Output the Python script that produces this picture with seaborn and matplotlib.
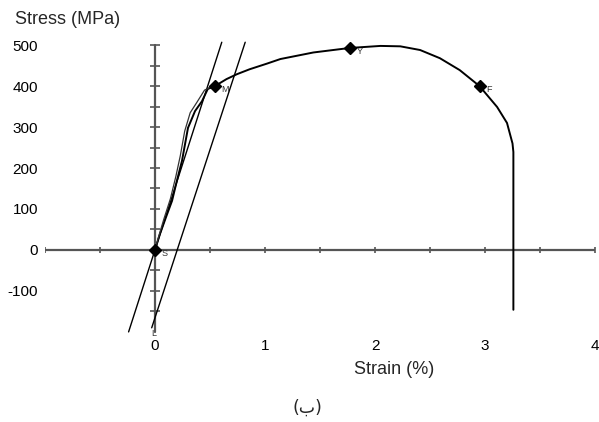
import matplotlib
matplotlib.use("Agg")
import matplotlib.pyplot as plt
import seaborn as sns
import pandas as pd
import numpy as np

# ---- data ----
curve_strain = [0, 0.045, 0.10, 0.155, 0.20, 0.245, 0.30, 0.364, 0.427, 0.48, 0.545,
                0.65, 0.745, 0.86, 1.02, 1.14, 1.44, 1.77, 2.05, 2.23, 2.41, 2.59,
                2.77, 2.95, 3.11, 3.20, 3.25, 3.258, 3.258]
curve_stress = [0, 39, 80, 120, 170, 217, 298, 339, 363, 393, 400,
                417, 429, 441, 455, 466, 482, 493, 498, 497, 488, 468,
                439, 400, 349, 310, 260, 239, -146]
loop_strain = [0, 0.03, 0.08, 0.14, 0.19, 0.23, 0.27, 0.32, 0.38, 0.45, 0.50]
loop_stress = [0, 30, 75, 125, 180, 230, 290, 335, 360, 390, 397]
line1_strain = [-0.24, 0.607]
line1_stress = [-200, 507]
line2_strain = [-0.03, 0.82]
line2_stress = [-190, 507]
point_labels = ["S", "M", "Y", "F"]
point_strain = [0.0, 0.545, 1.77, 2.95]
point_stress = [0, 400, 493, 400]
x_ticks = [0, 1, 2, 3, 4]
y_ticks = [-100, 0, 100, 200, 300, 400, 500]

sns.set_theme(style="white")
plt.rcParams["font.family"] = ["Liberation Sans", "DejaVu Sans"]
plt.rcParams["axes.unicode_minus"] = False

fig = plt.figure(figsize=(5.99, 4.22), dpi=100)
ax = fig.add_axes([45/599, 86/422, 550/599, 295/422])
ax.set_xlim(-1, 4)
ax.set_ylim(-210, 510)
for s in ax.spines.values():
    s.set_visible(False)

# axis cross lines with ticks
ax.plot([-1, 4], [0, 0], color="#555555", lw=1.6, zorder=1)
ax.plot(np.arange(-1, 4.01, 0.5), np.zeros(11), ls="none", marker="|",
        ms=5, mew=1.2, color="#555555", zorder=1)
ax.plot([0, 0], [-200, 500], color="#555555", lw=1.6, zorder=1)
ax.plot(np.zeros(14), np.arange(-150, 501, 50), ls="none", marker="_",
        ms=7, mew=1.2, color="#555555", zorder=1)

df = pd.DataFrame({"strain": curve_strain, "stress": curve_stress})
sns.lineplot(data=df, x="strain", y="stress", sort=False, estimator=None,
             color="black", lw=1.4, ax=ax, zorder=3)
sns.lineplot(x=loop_strain, y=loop_stress, sort=False, estimator=None,
             color="#333333", lw=0.9, ax=ax, zorder=3)
sns.lineplot(x=line1_strain, y=line1_stress, sort=False, estimator=None,
             color="black", lw=1.0, ax=ax, zorder=2)
sns.lineplot(x=line2_strain, y=line2_stress, sort=False, estimator=None,
             color="black", lw=1.0, ax=ax, zorder=2)
ax.plot(point_strain, point_stress, ls="none", marker="D", ms=6,
        color="black", zorder=4)
for lab, xs, ys in zip(point_labels, point_strain, point_stress):
    ax.text(xs + 0.06, ys - 8, lab, fontsize=6.5, color="#333333",
            ha="left", va="center", zorder=4)
ax.text(line2_strain[0], line2_stress[0] - 2, "L", fontsize=6.5, color="#333333",
        ha="left", va="top", zorder=4)

ax.set_xticks(x_ticks)
ax.set_yticks(y_ticks)
ax.tick_params(axis="both", length=0, labelsize=11, colors="black")
ax.tick_params(axis="x", pad=2)
ax.tick_params(axis="y", pad=5)
ax.set_xlabel("")
ax.set_ylabel("")
ax.grid(False)

fig.text(15/599, 1 - 19/422, "Stress (MPa)", fontsize=13, ha="left", va="center")
fig.text(394/599, 1 - 370/422, "Strain (%)", fontsize=13, ha="center", va="center")
fig.text(307/599, 1 - 408/422, "(ب)", fontsize=12.5, ha="center", va="center",
         family=["DejaVu Sans"])

fig.savefig("out.png", dpi=100, facecolor="white")
